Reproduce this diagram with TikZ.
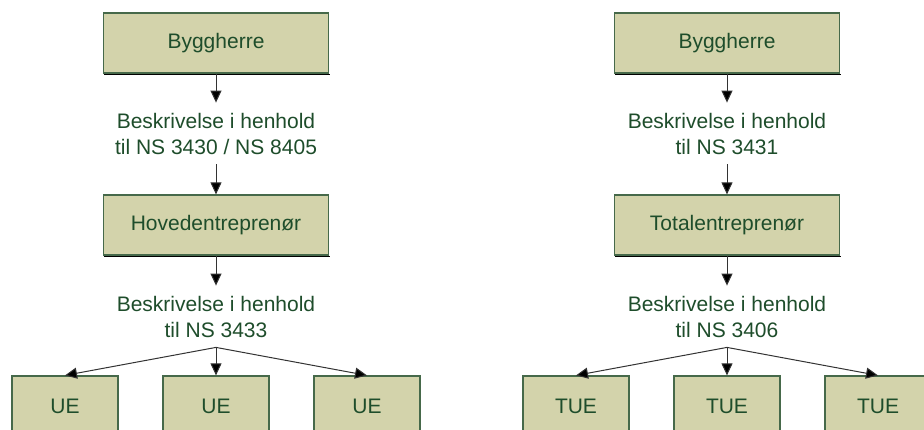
\documentclass[tikz,border=0pt]{standalone}
\usepackage{fontspec}
\setmainfont{Liberation Sans}
\usetikzlibrary{arrows.meta}

\definecolor{boxfill}{HTML}{D3D3AB}
\definecolor{boxline}{HTML}{46694A}
\definecolor{txtgreen}{HTML}{1E4D2B}
\definecolor{shade}{HTML}{8C9A8C}

\tikzset{
  party/.style={rectangle, draw=boxline, line width=1.2pt, fill=boxfill,
    text=txtgreen, font=\fontsize{21}{26}\selectfont,
    minimum height=60pt, inner sep=0pt},
  mainbox/.style={party, minimum width=225pt},
  subbox/.style={party, minimum width=106pt},
  spec/.style={text=txtgreen, align=center, font=\fontsize{21}{26}\selectfont,
    inner xsep=0pt, inner ysep=10pt},
  flow/.style={draw=black!80, line width=1pt,
    -{Triangle[length=12pt,width=11pt,fill=black]}},
}

\newcommand{\shadowbox}[1]{%
  \draw[shade, line width=1pt] ([xshift=1pt,yshift=-1.3pt]#1.south west) -- ([xshift=1pt,yshift=-1.3pt]#1.south east);}

\begin{document}
\begin{tikzpicture}[x=1pt, y=-1pt]
  \clip (0,0) rectangle (924,430);
  \fill[white] (0,0) rectangle (924,430);

  % Left column: general contract
  \node[mainbox] (bhL) at (216,43) {Byggherre};
  \node[spec] (sL1) at (216,133.5) {Beskrivelse i henhold\\til NS 3430 / NS 8405};
  \node[mainbox] (he) at (216,225) {Hovedentreprenør};
  \node[spec] (sL2) at (216,316.5) {Beskrivelse i henhold\\til NS 3433};
  \node[subbox] (ue1) at (65,406) {UE};
  \node[subbox] (ue2) at (216,406) {UE};
  \node[subbox] (ue3) at (367,406) {UE};

  % Right column: turnkey contract
  \node[mainbox] (bhR) at (727,43) {Byggherre};
  \node[spec] (sR1) at (727,133.5) {Beskrivelse i henhold\\til NS 3431};
  \node[mainbox] (te) at (727,225) {Totalentreprenør};
  \node[spec] (sR2) at (727,316.5) {Beskrivelse i henhold\\til NS 3406};
  \node[subbox] (tue1) at (576,406) {TUE};
  \node[subbox] (tue2) at (727,406) {TUE};
  \node[subbox] (tue3) at (878,406) {TUE};

  \foreach \b in {bhL,he,bhR,te} {\shadowbox{\b}}

  % Connectors
  \draw[flow] (bhL) -- (sL1);
  \draw[flow] (sL1) -- (he);
  \draw[flow] (he) -- (sL2);
  \draw[flow] (sL2.south) -- (ue1.north);
  \draw[flow] (sL2.south) -- (ue2.north);
  \draw[flow] (sL2.south) -- (ue3.north);

  \draw[flow] (bhR) -- (sR1);
  \draw[flow] (sR1) -- (te);
  \draw[flow] (te) -- (sR2);
  \draw[flow] (sR2.south) -- (tue1.north);
  \draw[flow] (sR2.south) -- (tue2.north);
  \draw[flow] (sR2.south) -- (tue3.north);
\end{tikzpicture}
\end{document}
